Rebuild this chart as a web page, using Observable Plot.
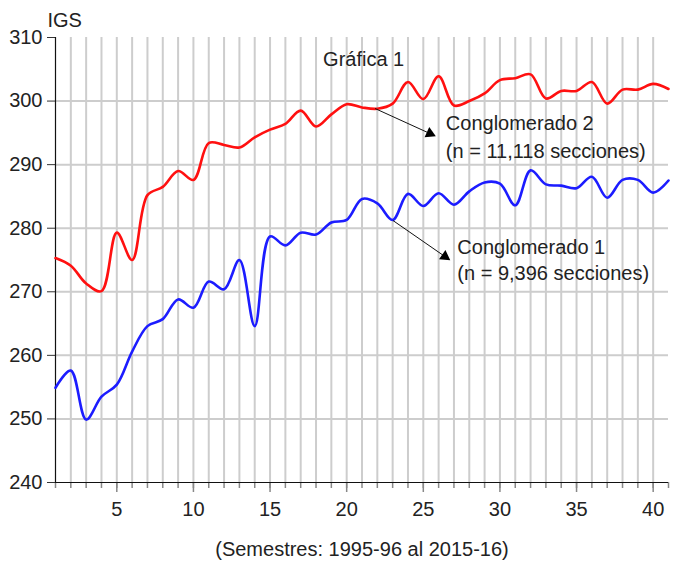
<!DOCTYPE html>
<html>
<head>
<meta charset="utf-8">
<script src="https://cdn.jsdelivr.net/npm/d3@7"></script>
<script src="https://cdn.jsdelivr.net/npm/@observablehq/plot@0.6"></script>
<style>
  html, body { margin: 0; padding: 0; background: #fff; }
  #chart svg { display: block; }
</style>
</head>
<body>
<div id="chart"></div>
<script>
// ---- Data ----
const semestres = d3.range(1, 42);
const conglomerado1 = [
  254.9, 257.6, 249.9, 253.5, 255.4, 260.6, 264.6, 265.7, 268.8, 267.5,
  271.6, 270.4, 275.0, 264.6, 278.7, 277.3, 279.3, 279.0, 280.9, 281.3,
  284.6, 283.9, 281.3, 285.4, 283.5, 285.5, 283.7, 285.8, 287.2, 287.0,
  283.6, 289.1, 286.9, 286.7, 286.3, 288.1, 284.8, 287.6, 287.6, 285.6,
  287.5
];
const conglomerado2 = [
  275.3, 274.1, 271.3, 270.1, 279.3, 275.0, 285.2, 286.5, 289.0, 287.6,
  293.4, 293.1, 292.7, 294.3, 295.5, 296.4, 298.5, 296.0, 297.9, 299.5,
  299.0, 298.8, 299.6, 303.0, 300.3, 303.9, 299.3, 300.0, 301.2, 303.3,
  303.6, 304.2, 300.4, 301.6, 301.6, 303.0, 299.6, 301.8, 301.8, 302.7,
  301.9
];
const xMajorTicks = [5, 10, 15, 20, 25, 30, 35, 40];
const yTicks = [240, 250, 260, 270, 280, 290, 300, 310];
const yGrid = [250, 260, 270, 280, 290, 300];
const xGrid = d3.range(2, 41);

const labelTexts = ["Gráfica 1", "Conglomerado 2", "(n = 11,118 secciones)", "Conglomerado 1", "(n = 9,396 secciones)"];
const labelX = [18.46, 26.47, 26.47, 27.22, 27.22];
const labelY = [306.6, 296.4, 292.1, 277.0, 272.8];

const arrowFromX = [21.85, 23.02];
const arrowFromY = [298.83, 281.21];
const arrowToX = [25.43, 26.41];
const arrowToY = [294.9, 275.55];

const yTitle = "IGS";
const xTitle = "(Semestres: 1995-96 al 2015-16)";

// ---- Build tables ----
const series = [
  ...semestres.map((s, i) => ({semestre: s, igs: conglomerado1[i], serie: "Conglomerado 1"})),
  ...semestres.map((s, i) => ({semestre: s, igs: conglomerado2[i], serie: "Conglomerado 2"}))
];
const labels = labelTexts.map((t, i) => ({text: t, x: labelX[i], y: labelY[i]}));

const W = 676, H = 566, mL = 55, mR = 8, mT = 37, mB = 84;
const kx = (W - mL - mR) / 40, ky = (H - mT - mB) / 70;
const arrows = arrowFromX.map((x1, i) => ({
  x1, y1: arrowFromY[i], x2: arrowToX[i], y2: arrowToY[i],
  rot: Math.atan2((arrowToX[i] - x1) * kx, (arrowToY[i] - arrowFromY[i]) * ky) * 180 / Math.PI
}));

const chart = Plot.plot({
  width: W,
  height: H,
  marginLeft: mL,
  marginRight: mR,
  marginTop: mT,
  marginBottom: mB,
  style: {fontFamily: "'Liberation Sans', Arial, Helvetica, sans-serif", fontSize: "20px", color: "#222", background: "#fff"},
  x: {domain: [1, 41]},
  y: {domain: [240, 310]},
  marks: [
    Plot.ruleX(xGrid, {stroke: "#cdcdcd", strokeWidth: 2}),
    Plot.ruleY(yGrid, {stroke: "#cdcdcd", strokeWidth: 2}),
    Plot.axisX({ticks: semestres, tickSize: 6, tickFormat: () => "", stroke: "#888", strokeWidth: 1.5, label: null}),
    Plot.axisX({ticks: xMajorTicks, tickSize: 10, tickPadding: 9, tickFormat: d => String(d), stroke: "#888", strokeWidth: 1.5, fill: "#222", label: null}),
    Plot.axisY({ticks: yTicks, tickSize: 8, tickPadding: 5, tickFormat: d => String(d), stroke: "#333", fill: "#222", label: null}),
    Plot.ruleX([1], {stroke: "#111", strokeWidth: 1.2}),
    Plot.ruleY([240], {stroke: "#111", strokeWidth: 1.2}),
    Plot.line(series, {
      x: "semestre", y: "igs", z: "serie",
      stroke: d => d.serie === "Conglomerado 2" ? "#ff1010" : "#1c1cff",
      strokeWidth: 2.6, curve: "catmull-rom"
    }),
    Plot.link(arrows, {x1: "x1", y1: "y1", x2: "x2", y2: "y2", stroke: "#111", strokeWidth: 1}),
    Plot.dot(arrows, {x: "x2", y: "y2", symbol: "triangle", r: 4.2, fill: "#000", stroke: "none", rotate: "rot"}),
    Plot.text(labels, {x: "x", y: "y", text: "text", textAnchor: "start", lineAnchor: "middle", fill: "#222", fontSize: 20}),
    Plot.text([yTitle], {frameAnchor: "top-left", text: d => d, textAnchor: "start", lineAnchor: "middle", dx: -8, dy: -16.5, fill: "#222", fontSize: 20}),
    Plot.text([xTitle], {frameAnchor: "bottom", text: d => d, textAnchor: "middle", lineAnchor: "middle", dy: 67.5, fill: "#222", fontSize: 20})
  ]
});
document.getElementById("chart").appendChild(chart);
</script>
</body>
</html>
